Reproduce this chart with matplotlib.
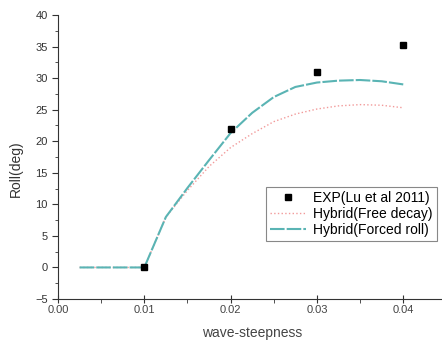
import matplotlib
matplotlib.use("Agg")
import matplotlib.pyplot as plt
from matplotlib.ticker import MultipleLocator

plt.rcParams["font.family"] = ["Liberation Sans", "DejaVu Sans"]

# experiment (Lu et al 2011)
exp_x = [0.01, 0.02, 0.03, 0.04]
exp_y = [0.0, 22.0, 31.0, 35.2]

# hybrid model curves
hyb_x = [0.0025, 0.005, 0.0075, 0.01, 0.0125, 0.015, 0.0175, 0.02,
         0.0225, 0.025, 0.0275, 0.03, 0.0325, 0.035, 0.0375, 0.04]
free_decay = [0, 0, 0, 0, 8.0, 12.2, 16.0, 19.0,
              21.2, 23.1, 24.3, 25.1, 25.6, 25.8, 25.7, 25.3]
forced_roll = [0, 0, 0, 0, 8.0, 12.6, 17.0, 21.3,
               24.5, 27.0, 28.6, 29.3, 29.6, 29.7, 29.5, 29.0]

fig = plt.figure(figsize=(4.42, 3.42), dpi=100)
ax = fig.add_axes([58 / 442, 43 / 342, 388.4 / 442, 284 / 342])

ax.plot(hyb_x, free_decay, color="#f29a9a", lw=1.0, ls=":",
        label="Hybrid(Free decay)", zorder=2)
ax.plot(hyb_x, forced_roll, color="#5ab4b4", lw=1.5, ls=(0, (7, 1)),
        label="Hybrid(Forced roll)", zorder=3)
ax.plot(exp_x, exp_y, ls="none", marker="s", ms=4.5, color="black",
        label="EXP(Lu et al 2011)", zorder=4)

ax.set_xlim(0, 0.045)
ax.set_ylim(-5, 40)
ax.xaxis.set_major_locator(MultipleLocator(0.01))
ax.xaxis.set_minor_locator(MultipleLocator(0.005))
ax.yaxis.set_major_locator(MultipleLocator(5))
ax.yaxis.set_minor_locator(MultipleLocator(2.5))
ax.xaxis.set_major_formatter(plt.FuncFormatter(lambda v, p: f"{v:.2f}"))

for s in ("top", "right"):
    ax.spines[s].set_visible(False)
ax.spines["left"].set_color("#333333")
ax.spines["bottom"].set_color("#333333")
ax.tick_params(axis="x", which="major", direction="inout", length=6,
               labelsize=8, labelcolor="#444444", color="#333333", pad=1)
ax.tick_params(axis="x", which="minor", direction="out", length=3,
               color="#333333")
ax.tick_params(axis="y", which="major", direction="out", length=4,
               labelsize=8, labelcolor="#333333", color="#333333")
ax.tick_params(axis="y", which="minor", direction="out", length=2,
               color="#333333")

ax.set_xlabel("wave-steepness", fontsize=10, color="#444444", labelpad=8)
ax.set_ylabel("Roll(deg)", fontsize=10, color="#333333")
ax.yaxis.set_label_coords(-0.09, 0.46)

h, l = ax.get_legend_handles_labels()
order = [2, 0, 1]
leg = ax.legend([h[i] for i in order], [l[i] for i in order],
                loc="upper left", bbox_to_anchor=(0.535, 0.395),
                fontsize=10, frameon=True, fancybox=False, framealpha=1,
                edgecolor="#888888", handlelength=2.6, handletextpad=0.5,
                borderpad=0.3, labelspacing=0.15, borderaxespad=0)
leg.get_frame().set_linewidth(0.8)

fig.savefig("out.png", dpi=100)
